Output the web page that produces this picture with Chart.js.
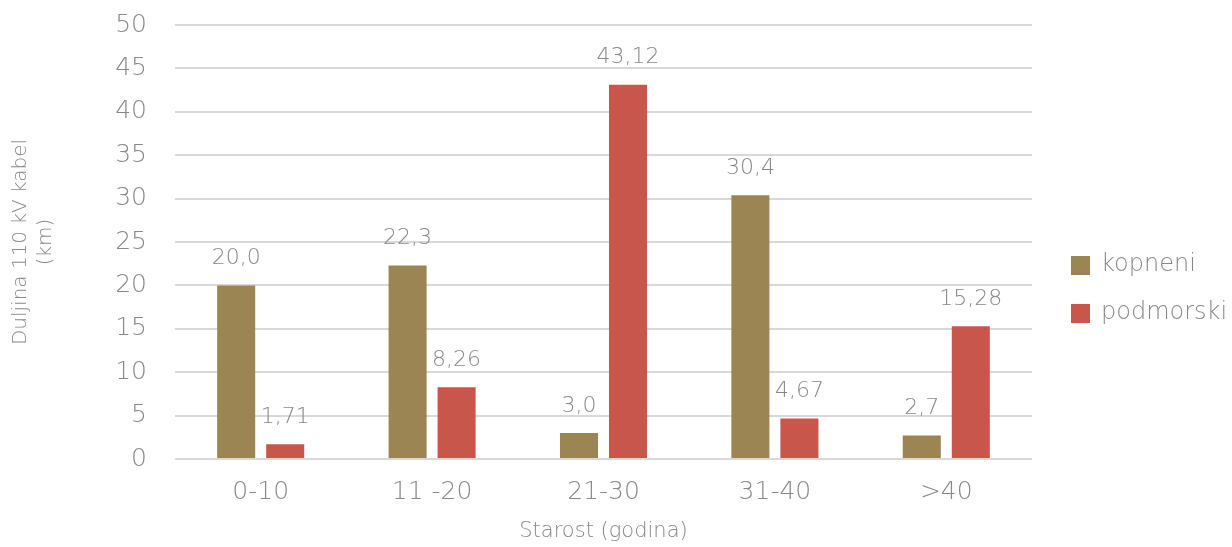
<!DOCTYPE html>
<html>
<head>
<meta charset="utf-8">
<script src="https://cdn.jsdelivr.net/npm/chart.js@4"></script>
<style>
  html, body { margin: 0; padding: 0; background: #fff; }
  #wrap { width: 1232px; height: 547px; }
</style>
</head>
<body>
<div id="wrap"><canvas id="c"></canvas></div>
<script>
// data
const categories = ['0-10', '11 -20', '21-30', '31-40', '>40'];
const kopneni = [20.0, 22.3, 3.0, 30.4, 2.7];
const podmorski = [1.71, 8.26, 43.12, 4.67, 15.28];
const kopneniLabels = ['20,0', '22,3', '3,0', '30,4', '2,7'];
const podmorskiLabels = ['1,71', '8,26', '43,12', '4,67', '15,28'];
const yTicks = [0, 5, 10, 15, 20, 25, 30, 35, 40, 45, 50];

const FONT = '"DejaVu Sans"';
const W = '200';
const GREY = '#898989';

// value labels above each bar
const barLabels = {
  id: 'barLabels',
  afterDatasetsDraw(chart) {
    const ctx = chart.ctx;
    ctx.save();
    ctx.font = W + ' 22px ' + FONT;
    ctx.fillStyle = GREY;
    ctx.textAlign = 'center';
    ctx.textBaseline = 'middle';
    chart.data.datasets.forEach((ds, i) => {
      chart.getDatasetMeta(i).data.forEach((bar, j) => {
        ctx.fillText(ds.valueLabels[j], bar.x, bar.y - 27);
      });
    });
    ctx.restore();
  }
};

// legend on the right, drawn by hand
const sideLegend = {
  id: 'sideLegend',
  afterDraw(chart) {
    const ctx = chart.ctx;
    ctx.save();
    ctx.font = W + ' 24px ' + FONT;
    ctx.textBaseline = 'middle';
    chart.data.datasets.forEach((ds, i) => {
      const y = 265 + i * 48;
      ctx.fillStyle = ds.backgroundColor;
      ctx.fillRect(1071, y - 9, 19, 19);
      ctx.fillStyle = GREY;
      ctx.fillText(ds.label, 1101, y);
    });
    ctx.restore();
  }
};

new Chart(document.getElementById('c'), {
  type: 'bar',
  data: {
    labels: categories,
    datasets: [
      {
        label: 'kopneni',
        data: kopneni,
        valueLabels: kopneniLabels,
        backgroundColor: '#9a8553',
        categoryPercentage: 0.572,
        barPercentage: 0.776,
      },
      {
        label: 'podmorski',
        data: podmorski,
        valueLabels: podmorskiLabels,
        backgroundColor: '#c9564b',
        categoryPercentage: 0.572,
        barPercentage: 0.776,
      },
    ],
  },
  options: {
    responsive: true,
    maintainAspectRatio: false,
    animation: false,
    layout: { autoPadding: false, padding: { top: 25, right: 200, bottom: 0, left: 0 } },
    plugins: {
      legend: { display: false },
      tooltip: { enabled: false },
    },
    scales: {
      x: {
        grid: { display: false, drawTicks: false },
        border: { display: false },
        ticks: { color: GREY, font: { family: FONT, size: 25, weight: W }, padding: 18 },
        title: {
          display: true,
          text: 'Starost (godina)',
          color: GREY,
          font: { family: FONT, size: 21, weight: W },
          padding: { top: 0, bottom: 3 },
        },
        afterFit(scale) { scale.height = 88; },
      },
      y: {
        min: 0,
        max: 50,
        afterBuildTicks(scale) { scale.ticks = yTicks.map(v => ({ value: v })); },
        grid: { color: '#d9d9d9', lineWidth: 2, drawTicks: false },
        border: { display: false },
        ticks: { color: GREY, font: { family: FONT, size: 25, weight: W }, padding: 28 },
        title: {
          display: true,
          text: ['Duljina 110 kV kabel', '(km)'],
          color: GREY,
          font: { family: FONT, size: 20, weight: W, lineHeight: 1.25 },
          padding: { top: 8, bottom: 0 },
        },
        // tick padding would otherwise push the plot top down
        afterFit(scale) {
          scale.width = 175;
          scale.paddingTop = 0;
          scale.paddingBottom = 0;
        },
      },
    },
  },
  plugins: [barLabels, sideLegend],
});
</script>
</body>
</html>
